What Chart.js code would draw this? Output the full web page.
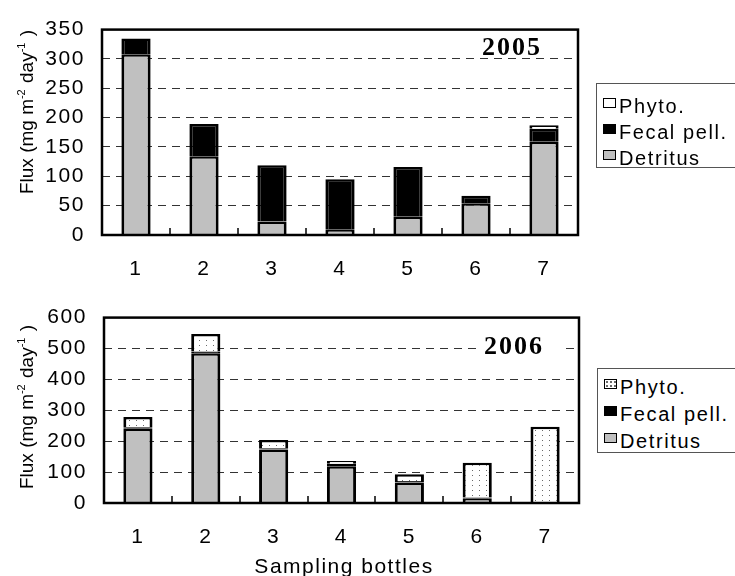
<!DOCTYPE html>
<html>
<head>
<meta charset="utf-8">
<script src="https://cdn.jsdelivr.net/npm/chart.js@4.4.1/dist/chart.umd.min.js"></script>
<style>
  html, body { margin: 0; padding: 0; background: #fff; overflow: hidden; }
  body { width: 735px; height: 576px; position: relative; font-family: "Liberation Sans", Arial, sans-serif; }
  .panel { position: absolute; left: 0; width: 735px; height: 288px; }
  .legend { position: absolute; border: 1px solid #555; background: #fff; width: 170px; height: 85px;
            font-size: 20px; letter-spacing: 1.6px; color: #000; box-sizing: border-box; }
  .legend div { height: 26px; line-height: 26px; white-space: nowrap; }
  .legend i { display: inline-block; width: 11px; height: 8px; border: 1.5px solid #000; margin: 0 3px 0 6px;
              position: relative; top: -5px; vertical-align: middle; }
</style>
</head>
<body>
<div class="panel" style="top:0"><canvas id="c2005"></canvas></div>
<div class="panel" style="top:288px"><canvas id="c2006"></canvas></div>

<div class="legend" style="left:596px; top:83px; padding-top:9px">
  <div><i style="background:#fff"></i>Phyto.</div>
  <div><i style="background:#000"></i>Fecal pell.</div>
  <div><i style="background:#c0c0c0"></i>Detritus</div>
</div>
<div class="legend" style="left:597px; top:368px; padding-top:5px">
  <div style="height:27px;line-height:27px"><i style="background:#fff radial-gradient(#666 0.7px, transparent 1px) 0 0/4px 4px"></i>Phyto.</div>
  <div style="height:27px;line-height:27px"><i style="background:#000"></i>Fecal pell.</div>
  <div style="height:27px;line-height:27px"><i style="background:#c0c0c0"></i>Detritus</div>
</div>

<script>
const bottles = ['1', '2', '3', '4', '5', '6', '7'];

// 2005 (mg m-2 day-1)
const detritus2005 = [308, 134, 23, 10, 31, 54, 159];
const fecal2005 = [27, 55, 96, 85, 85, 13, 22];
const phyto2005 = [0, 0, 0, 0, 0, 0, 6];

// 2006
const detritus2006 = [240, 485, 173, 119, 66, 14, 0];
const fecal2006 = [5, 5, 4, 8, 5, 4, 2];
const phyto2006 = [33, 57, 27, 9, 22, 112, 245];

const yMax2005 = 350, yStep2005 = 50;
const yMax2006 = 600, yStep2006 = 100;

Chart.defaults.font.family = '"Liberation Sans", Arial, sans-serif';
Chart.defaults.color = '#000';

function dots() {
  const c = document.createElement('canvas');
  c.width = 7; c.height = 5;
  const g = c.getContext('2d');
  g.fillStyle = '#fff';
  g.fillRect(0, 0, 7, 5);
  g.fillStyle = '#6a6a6a';
  g.fillRect(3, 2, 1, 1);
  return g.createPattern(c, 'repeat');
}

// draw text piece by piece so the unit can have superscripts
function unitTitle(ctx, x, y) {
  const parts = [
    ['Flux (mg m', 19, 0],
    ['-2', 11, -8],
    [' day', 19, 0],
    ['-1', 11, -8],
    [' )', 19, 0]
  ];
  ctx.save();
  ctx.translate(x, y);
  ctx.rotate(-Math.PI / 2);
  ctx.letterSpacing = '0px';
  let w = 0;
  for (const p of parts) { ctx.font = p[1] + 'px "Liberation Sans"'; w += ctx.measureText(p[0]).width; }
  let cx = -w / 2;
  ctx.textBaseline = 'alphabetic';
  ctx.fillStyle = '#000';
  for (const p of parts) {
    ctx.font = p[1] + 'px "Liberation Sans"';
    ctx.fillText(p[0], cx, p[2]);
    cx += ctx.measureText(p[0]).width + (p[1] < 15 ? 1 : 0);
  }
  ctx.restore();
}

const decor = {
  id: 'decor',
  beforeLayout(chart) { chart.ctx.letterSpacing = '1.6px'; },
  beforeDraw(chart) { chart.ctx.letterSpacing = '1.6px'; },
  afterDatasetsDraw(chart, args, o) {
    const { ctx, chartArea: a, scales: { x } } = chart;
    ctx.save();
    ctx.strokeStyle = '#000';
    ctx.lineWidth = 2.5;
    ctx.strokeRect(a.left, a.top, a.right - a.left, a.bottom - a.top);
    const half = (x.getPixelForValue(1) - x.getPixelForValue(0)) / 2;
    ctx.lineWidth = 1.5;
    for (let i = 1; i < bottles.length; i++) {
      const px = Math.round(x.getPixelForValue(i) - half);
      ctx.beginPath();
      ctx.moveTo(px, a.bottom);
      ctx.lineTo(px, a.bottom - 7);
      ctx.stroke();
    }
    // year label sits on a white box over the grid line
    ctx.font = 'bold 26px "Liberation Serif"';
    ctx.letterSpacing = '2px';
    const tw = ctx.measureText(o.year).width;
    ctx.fillStyle = '#fff';
    ctx.fillRect(o.yearX - tw / 2 - 6, o.yearY - 12, tw + 22, 22);
    ctx.fillStyle = '#000';
    ctx.textAlign = 'center';
    ctx.textBaseline = 'middle';
    ctx.fillText(o.year, o.yearX, o.yearY + 1);
    if (o.xTitle) {
      ctx.font = '21px "Liberation Sans"';
      ctx.letterSpacing = '1.5px';
      ctx.fillText(o.xTitle, o.xTitleX, o.xTitleY);
    }
    ctx.restore();
    unitTitle(ctx, 33, o.titleY);
  }
};

function makeChart(id, detritus, fecal, phyto, phytoFill, yMax, yStep, pad, xh, yw, o) {
  const bw = { top: 2.5, left: 3, right: 3, bottom: 0 };
  return new Chart(document.getElementById(id), {
    type: 'bar',
    data: {
      labels: bottles,
      datasets: [
        { label: 'Detritus', data: detritus, backgroundColor: '#c0c0c0' },
        { label: 'Fecal pell.', data: fecal, backgroundColor: '#000' },
        { label: 'Phyto.', data: phyto, backgroundColor: phytoFill }
      ].map(d => Object.assign(d, {
        borderColor: '#000', borderWidth: bw, borderSkipped: false,
        barPercentage: 0.43, categoryPercentage: 1
      }))
    },
    options: {
      responsive: true,
      maintainAspectRatio: false,
      animation: false,
      layout: { padding: pad },
      plugins: { legend: { display: false }, tooltip: { enabled: false }, decor: o },
      scales: {
        x: {
          stacked: true,
          grid: { display: false },
          border: { display: false },
          ticks: { font: { size: 21 }, padding: 14, color: '#000' },
          afterFit: s => { s.height = xh; }
        },
        y: {
          stacked: true,
          min: 0, max: yMax,
          ticks: { stepSize: yStep, font: { size: 21 }, padding: 17, color: '#000' },
          grid: {
            drawTicks: false, lineWidth: 1,
            color: c => (c.tick.value === 0 || c.tick.value === yMax) ? 'rgba(0,0,0,0)' : '#333'
          },
          border: { display: false, dash: [8, 6] },
          afterFit: s => { s.width = yw; }
        }
      }
    },
    plugins: [decor]
  });
}

makeChart('c2005', detritus2005, fecal2005, phyto2005, '#fff', yMax2005, yStep2005,
  { top: 16, right: 157, left: 0, bottom: 0 }, 53, 102,
  { year: '2005', yearX: 512, yearY: 47, titleY: 113 });

makeChart('c2006', detritus2006, fecal2006, phyto2006, dots(), yMax2006, yStep2006,
  { top: 27, right: 156, left: 0, bottom: 0 }, 73, 104,
  { year: '2006', yearX: 514, yearY: 58, titleY: 120, xTitle: 'Sampling bottles', xTitleX: 344, xTitleY: 279 });
</script>
</body>
</html>
